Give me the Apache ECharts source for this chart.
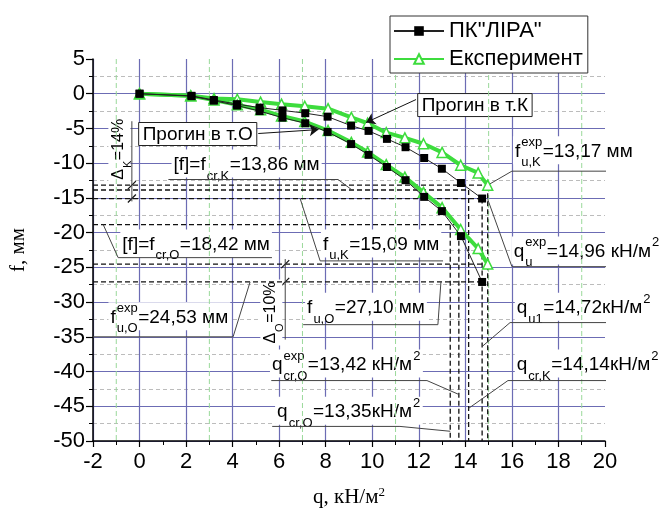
<!DOCTYPE html>
<html lang="uk">
<head>
<meta charset="UTF-8">
<title>Прогини</title>
<script src="https://cdn.jsdelivr.net/npm/echarts@6.0.0/dist/echarts.min.js"></script>
</head>
<body style="margin:0;background:#fff">
<div id="chart" style="width:663px;height:514px"></div>
<script>
// ПК "ЛІРА" - навантаження q та прогини в т.К і т.О
const qLira = [0, 2.23, 3.19, 4.19, 5.16, 6.14, 7.12, 8.08, 9.09, 9.84, 10.63, 11.43, 12.23, 12.99, 13.81, 14.72];
const fLiraK = [0, -0.3, -0.9, -1.5, -2.0, -2.4, -2.8, -3.3, -4.6, -5.35, -6.5, -7.7, -9.25, -10.8, -12.85, -15.09];
const fLiraO = [0, -0.35, -1.0, -1.7, -2.5, -3.45, -4.25, -5.5, -7.25, -8.8, -10.55, -12.45, -14.85, -16.9, -20.5, -27.1];
// експеримент
const qExp = [0, 2.2, 3.2, 4.2, 5.2, 6.1, 7.1, 8.1, 9.1, 9.8, 10.6, 11.4, 12.2, 13.0, 13.8, 14.55, 14.96];
const fExpK = [0, -0.3, -0.7, -0.8, -1.2, -1.5, -1.8, -2.15, -3.4, -4.25, -5.6, -6.35, -7.2, -8.45, -10.3, -11.4, -13.17];
const fExpO = [0, -0.3, -0.9, -1.6, -2.3, -3.2, -4.0, -5.3, -7.0, -8.4, -10.2, -12.0, -14.2, -16.4, -19.55, -22.3, -24.53];

// осі
const xRange = [-2, 20, 2];
const yRange = [-50, 5, 5];
const greenGridQ = [-1, 3, 7, 11, 15, 19];

// пунктирні лінії: [f, q кінця] та [q, f початку]
const hRefs = [[-13.17, 14.96], [-13.86, 14.14], [-15.09, 14.72], [-18.85, 13.72], [-24.53, 14.96], [-27.1, 14.72]];
const vRefs = [[13.35, -18.85], [13.72, -18.85], [14.14, -13.86], [14.72, -15.09], [14.96, -13.17]];

// виноски (в одиницях осей)
const leaders = [
    [[1.24, -12.35], [8.53, -12.35], [9.13, -13.86]],
    [[-1.56, -18.85], [-0.92, -23.6], [5.69, -23.6]],
    [[6.9, -15.09], [7.76, -24.07], [13.04, -24.07]],
    [[12.95, -27.1], [12.82, -33.25], [7.03, -33.25]],
    [[-2, -35], [4.02, -35], [4.75, -27.1]],
    [[14.96, -13.17], [16.0, -11.15], [21.24, -11.15]],
    [[14.96, -15.2], [16.0, -24.9], [21.8, -24.9]],
    [[14.72, -36.4], [15.92, -32.95], [21.84, -32.95]],
    [[14.14, -45.3], [15.83, -41.3], [22.0, -41.3]],
    [[5.66, -41.3], [12.35, -41.3], [13.72, -43.3]],
    [[5.7, -47.9], [11.19, -47.9], [13.35, -48.6]]
];
const arrows = [
    [[5.1, -5.73], [7.69, -5.16]],
    [[11.88, -0.84], [9.73, -4.15]]
];
const boxes = [
    {at: [2.5, -5.8], text: 'Прогин в т.О'},
    {at: [14.41, -1.63], text: 'Прогин в т.К'}
];
const labels = [
    {at: [1.46, -10.2], parts: ['[f]=f', {sub: 'cr,K'}, '=13,86 мм']},
    {at: [-0.74, -21.7], parts: ['[f]=f', {sub: 'cr,O'}, '=18,42 мм']},
    {at: [7.88, -21.7], parts: ['f', {sub: 'u,K'}, '=15,09 мм']},
    {at: [7.2, -30.8], parts: ['f', {sub: 'u,O'}, '=27,10 мм']},
    {at: [-1.25, -32.2], parts: ['f', {sup: 'exp', sub: 'u,O'}, '=24,53 мм']},
    {at: [16.13, -8.3], parts: ['f', {sup: 'exp', sub: 'u,K'}, '=13,17 мм']},
    {at: [16.08, -22.7], parts: ['q', {sup: 'exp', sub: 'u'}, '=14,96 кН/м', {sup: '2'}]},
    {at: [16.21, -30.8], parts: ['q', {sub: 'u1'}, '=14,72кН/м', {sup: '2'}]},
    {at: [16.21, -39.0], parts: ['q', {sub: 'cr,K'}, '=14,14кН/м', {sup: '2'}]},
    {at: [5.69, -39.0], parts: ['q', {sup: 'exp', sub: 'cr,O'}, '=13,42 кН/м', {sup: '2'}]},
    {at: [5.91, -45.8], parts: ['q', {sub: 'cr,O'}, '=13,35кН/м', {sup: '2'}]}
];
// розмірні лінії Δ
const dims = [
    {q: -0.33, from: -3.96, to: -15.5, ticks: [-13.17, -15.09], at: [-0.91, -8.0], parts: ['Δ', {sub: 'K'}, '=14%']},
    {q: 6.26, from: -23.8, to: -35.4, ticks: [-24.53, -27.1], at: [5.62, -31.5], parts: ['Δ', {sub: 'O'}, '=10%']}
];

const F = '"Liberation Sans", Arial, sans-serif';
const SERIF = '"Liberation Serif", "Times New Roman", serif';
const GREEN = '#3ddc3d';
const GRID = '#6c6cb4';

const zip = (xs, ys) => xs.map((x, i) => [x, ys[i]]);
const refStyle = {color: '#111', width: 1.3, type: [5, 3]};
const leadStyle = {color: '#444', width: 1};
const greenStyle = {color: '#9ad99a', width: 1, type: [5, 3]};

function path(data, style, z) {
    return {type: 'line', data: data, symbol: 'none', silent: true, clip: false, lineStyle: style, z: z || 2};
}

let series = [];
greenGridQ.forEach(q => series.push(path([[q, yRange[1]], [q, yRange[0]]], greenStyle, 1)));
hRefs.forEach(r => series.push(path([[xRange[0], r[0]], [r[1], r[0]]], refStyle)));
vRefs.forEach(r => series.push(path([[r[0], r[1]], [r[0], yRange[0]]], refStyle)));
leaders.forEach(l => series.push(path(l, leadStyle)));
dims.forEach(d => series.push(path([[d.q, d.from], [d.q, d.to]], leadStyle)));
series.push({
    type: 'line', data: [], silent: true, z: 2,
    markLine: {
        silent: true, symbol: ['none', 'arrow'], symbolSize: 9, label: {show: false},
        lineStyle: {color: '#111', width: 1, type: 'solid'},
        data: arrows.map(a => [{coord: a[0]}, {coord: a[1]}])
    }
});

// дані
[fExpK, fExpO].forEach(f => series.push({
    name: 'Експеримент', type: 'line', data: zip(qExp, f), z: 3,
    symbol: 'triangle', symbolSize: 10, showAllSymbol: true,
    lineStyle: {color: GREEN, width: 4},
    itemStyle: {color: '#fff', borderColor: GREEN, borderWidth: 1.5}
}));
[fLiraK, fLiraO].forEach(f => series.push({
    name: 'ПК"ЛІРА"', type: 'line', data: zip(qLira, f), z: 4,
    symbol: 'rect', symbolSize: 8, showAllSymbol: true,
    lineStyle: {color: '#222', width: 1},
    itemStyle: {color: '#000'}
}));

let chart = echarts.init(document.getElementById('chart'));
chart.setOption({
    animation: false,
    textStyle: {fontFamily: F},
    grid: {left: 93, top: 59, width: 512, height: 382, outerBoundsMode: 'none'},
    legend: {
        data: ['ПК"ЛІРА"', 'Експеримент'], orient: 'vertical', left: 390, top: 16,
        itemWidth: 50, itemHeight: 12, itemGap: 6, padding: [4, 5, 3, 3],
        borderColor: '#333', borderWidth: 1, backgroundColor: '#fff', selectedMode: false,
        textStyle: {fontSize: 22, fontFamily: F, color: '#000'}
    },
    xAxis: {
        type: 'value', min: xRange[0], max: xRange[1], interval: xRange[2],
        name: 'q, кН/м{s|2}', nameLocation: 'middle', nameGap: 45,
        nameTextStyle: {fontFamily: SERIF, fontSize: 21, color: '#000',
            rich: {s: {fontFamily: SERIF, fontSize: 13, color: '#000', verticalAlign: 'top', padding: [0, 0, 10, 0]}}},
        axisLine: {onZero: false, lineStyle: {color: '#000', width: 1.5}},
        axisTick: {length: 6, lineStyle: {color: '#000', width: 1.2}},
        minorTick: {show: true, splitNumber: 2, length: 4, lineStyle: {color: '#000', width: 1}},
        axisLabel: {fontSize: 22, color: '#000', fontFamily: F, margin: 10},
        splitLine: {show: true, showMaxLine: false, lineStyle: {color: GRID, width: 1.2}}
    },
    yAxis: {
        type: 'value', min: yRange[0], max: yRange[1], interval: yRange[2],
        name: 'f, мм', nameLocation: 'middle', nameGap: 64,
        nameTextStyle: {fontFamily: SERIF, fontSize: 21, color: '#000'},
        axisLine: {onZero: false, lineStyle: {color: '#000', width: 1.5}},
        axisTick: {length: 7, lineStyle: {color: '#000', width: 1.2}},
        minorTick: {show: true, splitNumber: 2, length: 4, lineStyle: {color: '#000', width: 1}},
        axisLabel: {fontSize: 22, color: '#000', fontFamily: F, margin: 8},
        splitLine: {show: true, showMaxLine: false, lineStyle: {color: GRID, width: 1.2}},
        minorSplitLine: {show: true, lineStyle: {color: '#bcbcbc', width: 1, type: [4, 3]}}
    },
    series: series
});

// підписи
const ctx = document.createElement('canvas').getContext('2d');
function tw(s, size) {
    ctx.font = size + 'px ' + F;
    return ctx.measureText(s).width;
}
function txt(s, x, y, size) {
    return {type: 'text', x: x, y: y, style: {text: s, font: size + 'px ' + F, fill: '#000',
        align: 'left', verticalAlign: 'middle', textAlign: 'left', textVerticalAlign: 'middle'}};
}
function pieces(parts, size, dx) {
    let small = Math.round(size * 0.66);
    let kids = [], cx = dx || 0;
    parts.forEach(p => {
        if (typeof p === 'string') {
            kids.push(txt(p, cx, 0, size));
            cx += tw(p, size);
        } else {
            let w = 0;
            if (p.sup) { kids.push(txt(p.sup, cx + 1, -size * 0.45, small)); w = Math.max(w, tw(p.sup, small)); }
            if (p.sub) { kids.push(txt(p.sub, cx + 1, size * 0.6, small)); w = Math.max(w, tw(p.sub, small)); }
            cx += w + 1.5;
        }
    });
    return {kids: kids, width: cx - (dx || 0)};
}
const px = p => chart.convertToPixel({gridIndex: 0}, p);

let g = [];
labels.forEach(l => {
    let [x, y] = px(l.at);
    let pc = pieces(l.parts, 19);
    g.push({type: 'group', x: x, y: y, children: [
        {type: 'rect', shape: {x: -2, y: -15, width: pc.width + 4, height: 28}, style: {fill: '#fff'}}
    ].concat(pc.kids)});
});
boxes.forEach(b => {
    let [x, y] = px(b.at);
    let w = tw(b.text, 19);
    g.push({type: 'group', x: x, y: y, children: [
        {type: 'rect', shape: {x: -w / 2 - 4, y: -11.5, width: w + 8, height: 23}, style: {fill: '#fff', stroke: '#222', lineWidth: 1}},
        txt(b.text, -w / 2, 0.5, 19)
    ]});
});
dims.forEach(d => {
    d.ticks.forEach(f => {
        let [x, y] = px([d.q, f]);
        g.push({type: 'line', shape: {x1: x - 4, y1: y + 4, x2: x + 4, y2: y - 4}, style: {stroke: '#111', lineWidth: 1.2}});
    });
    let [x, y] = px(d.at);
    let w = pieces(d.parts, 16).width;
    let pc = pieces(d.parts, 16, -w / 2);
    g.push({type: 'group', x: x, y: y, rotation: Math.PI / 2, children: [
        {type: 'rect', shape: {x: -w / 2 - 2, y: -10, width: w + 4, height: 22}, style: {fill: '#fff'}}
    ].concat(pc.kids)});
});
chart.setOption({graphic: g});
</script>
</body>
</html>
